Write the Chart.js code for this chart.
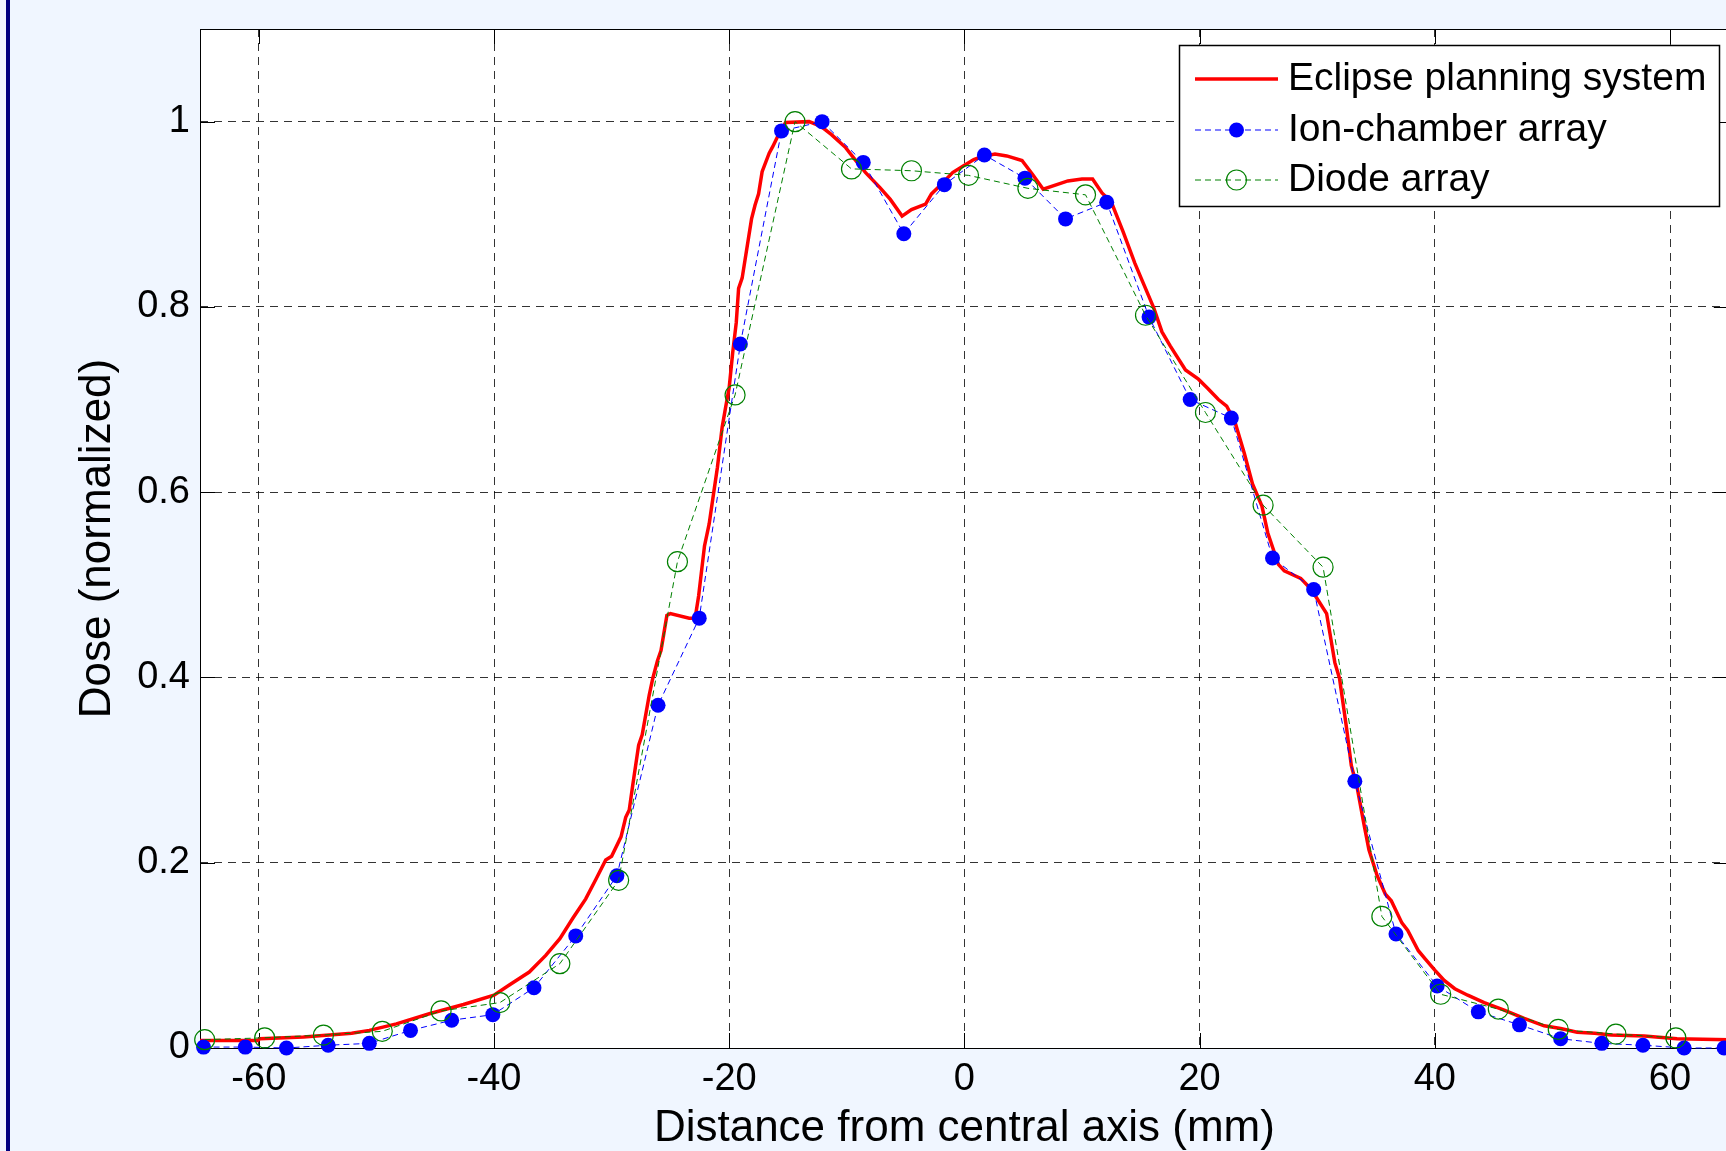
<!DOCTYPE html>
<html>
<head>
<meta charset="utf-8">
<title>Dose profile</title>
<script src="https://cdn.jsdelivr.net/npm/chart.js@4.4.1/dist/chart.umd.min.js"></script>
<style>
  html, body { margin: 0; padding: 0; overflow: hidden; background: #f0f6ff; }
  #wrap { position: absolute; left: 0; top: 0; width: 1740px; height: 1151px; }
  #edge { position: absolute; left: 6px; top: 0; width: 4px; height: 1151px; background: #000080; }
</style>
</head>
<body>
<div id="wrap"><canvas id="myChart"></canvas></div>
<div id="edge"></div>
<script>
// Eclipse planning system (calculated profile)
var eclipseX = [-65, -60.1, -59.9, -56.2, -54.0, -52.1, -50.6, -48.3, -45.5, -42.6, -40.0, -38.7, -37.0, -35.6, -34.4, -33.3,
  -32.2, -31.3, -30.5, -30.0, -29.2, -28.8, -28.5, -28.2, -27.7, -27.4, -26.8, -26.5, -26.1, -25.8, -25.3, -25.0,
  -23.4, -22.9, -22.6, -22.1, -21.7, -21.3, -21.0, -20.6, -20.3, -20.0, -19.7, -19.4, -19.2, -18.9, -18.5, -18.1,
  -17.8, -17.5, -17.2, -16.6, -16.3, -15.8, -15.2, -13.2, -12.2, -11.3, -10.1, -9.3, -8.4, -7.2, -6.3, -5.3,
  -4.5, -3.3, -2.8, -2.0, -1.0, -0.1, 0.8, 1.4, 2.6, 3.6, 4.9, 5.8, 6.7, 7.6, 8.8, 10.0,
  10.9, 11.7, 12.5, 13.5, 14.5, 15.2, 16.1, 16.8, 17.5, 18.8, 19.9, 20.7, 21.6, 22.3, 23.0, 23.8,
  24.5, 25.3, 25.8, 26.7, 27.2, 28.6, 29.5, 30.8, 31.5, 31.9, 32.5, 32.9, 33.4, 34.0, 34.4, 35.1,
  35.8, 36.3, 37.2, 37.7, 38.6, 39.2, 40.0, 40.8, 41.7, 42.8, 44.2, 45.9, 47.6, 49.3, 50.7, 52.1,
  53.6, 55.0, 57.8, 60.6, 65.0];
var eclipseY = [0.008, 0.008, 0.010, 0.012, 0.014, 0.016, 0.019, 0.026, 0.037, 0.047, 0.057, 0.068, 0.082, 0.100, 0.118, 0.140,
  0.161, 0.183, 0.203, 0.207, 0.228, 0.249, 0.257, 0.284, 0.327, 0.338, 0.381, 0.399, 0.418, 0.429, 0.467, 0.469,
  0.464, 0.464, 0.488, 0.542, 0.566, 0.601, 0.627, 0.670, 0.692, 0.713, 0.751, 0.783, 0.820, 0.831, 0.863, 0.895,
  0.910, 0.922, 0.946, 0.966, 0.973, 0.986, 0.999, 1.000, 0.995, 0.986, 0.972, 0.959, 0.945, 0.929, 0.916, 0.898,
  0.905, 0.911, 0.922, 0.932, 0.945, 0.952, 0.959, 0.962, 0.965, 0.963, 0.958, 0.943, 0.927, 0.931, 0.936, 0.938,
  0.938, 0.923, 0.913, 0.881, 0.847, 0.826, 0.799, 0.773, 0.758, 0.732, 0.722, 0.712, 0.700, 0.693, 0.676, 0.642,
  0.609, 0.585, 0.556, 0.522, 0.515, 0.507, 0.495, 0.469, 0.416, 0.399, 0.345, 0.305, 0.281, 0.240, 0.214, 0.186,
  0.166, 0.159, 0.135, 0.127, 0.105, 0.096, 0.084, 0.073, 0.064, 0.057, 0.049, 0.041, 0.032, 0.024, 0.021, 0.017,
  0.016, 0.014, 0.013, 0.010, 0.009];

// Ion-chamber array (measured)
var ionX = [-64.7, -61.15, -57.65, -54.1, -50.6, -47.1, -43.6, -40.1, -36.6, -33.05, -29.55, -26.05, -22.55,
  -19.05, -15.55, -12.1, -8.6, -5.15, -1.7, 1.7, 5.15, 8.6, 12.1, 15.7, 19.2, 22.7, 26.2, 29.7, 33.2,
  36.7, 40.2, 43.7, 47.2, 50.7, 54.2, 57.7, 61.2, 64.6];
var ionY = [0.001, 0.001, 0.000, 0.003, 0.005, 0.019, 0.030, 0.036, 0.065, 0.121, 0.186, 0.370, 0.464,
  0.760, 0.990, 1.000, 0.956, 0.879, 0.932, 0.964, 0.939, 0.895, 0.913, 0.789, 0.700, 0.680, 0.529, 0.495, 0.288,
  0.123, 0.067, 0.039, 0.025, 0.010, 0.005, 0.003, 0.000, 0.000];

// Diode array (measured)
var diodeX = [-64.6, -59.5, -54.5, -49.5, -44.5, -39.5, -34.4, -29.4, -24.4, -19.5, -14.4, -9.6, -4.5,
  0.35, 5.4, 10.3, 15.4, 20.5, 25.4, 30.5, 35.5, 40.5, 45.4, 50.5, 55.4, 60.5];
var diodeY = [0.009, 0.011, 0.014, 0.018, 0.040, 0.049, 0.091, 0.181, 0.525, 0.705, 1.000, 0.949, 0.947,
  0.942, 0.928, 0.921, 0.791, 0.686, 0.586, 0.519, 0.142, 0.058, 0.042, 0.020, 0.015, 0.011];

var xTicks = [-60, -40, -20, 0, 20, 40, 60];
var yTicks = [0, 0.2, 0.4, 0.6, 0.8, 1];

function toPoints(xs, ys) {
  return xs.map(function(x, i) { return {x: x, y: ys[i]}; });
}

var FONT = "'Liberation Sans', Arial, sans-serif";

// white plot area, box, inward ticks and the boxed legend (MATLAB look)
var matlabAxes = {
  id: 'matlabAxes',
  beforeDraw: function(chart) {
    var a = chart.chartArea, ctx = chart.ctx;
    ctx.save();
    ctx.fillStyle = '#ffffff';
    ctx.fillRect(a.left, a.top, a.right - a.left, a.bottom - a.top);
    ctx.restore();
  },
  beforeDatasetsDraw: function(chart) {
    var a = chart.chartArea, ctx = chart.ctx;
    var xs = chart.scales.x, ys = chart.scales.y;
    var tl = 15;
    ctx.save();
    ctx.strokeStyle = '#000';
    ctx.lineWidth = 1;
    ctx.strokeRect(Math.round(a.left) + 0.5, Math.round(a.top) + 0.5,
      Math.round(a.right - a.left), Math.round(a.bottom - a.top));
    ctx.beginPath();
    xTicks.forEach(function(v) {
      var px = Math.round(xs.getPixelForValue(v)) + 0.5;
      ctx.moveTo(px, a.bottom); ctx.lineTo(px, a.bottom - tl);
      ctx.moveTo(px, a.top); ctx.lineTo(px, a.top + tl);
    });
    yTicks.forEach(function(v) {
      var py = Math.round(ys.getPixelForValue(v)) + 0.5;
      ctx.moveTo(a.left, py); ctx.lineTo(a.left + tl, py);
      ctx.moveTo(a.right, py); ctx.lineTo(a.right - tl, py);
    });
    ctx.stroke();
    ctx.restore();
  },
  afterDraw: function(chart) {
    var ctx = chart.ctx;
    var ds = chart.data.datasets;
    var box = {left: 1179, top: 45, right: 1719, bottom: 206};
    var rows = [79, 130, 180];
    var x0 = 1195, x1 = 1278, xm = (x0 + x1) / 2, tx = 1288;
    ctx.save();
    ctx.fillStyle = '#fff';
    ctx.fillRect(box.left, box.top, box.right - box.left, box.bottom - box.top);
    ctx.strokeStyle = '#000';
    ctx.lineWidth = 1.5;
    ctx.strokeRect(box.left + 0.5, box.top + 0.5, box.right - box.left, box.bottom - box.top);
    ds.forEach(function(d, i) {
      var y = rows[i];
      ctx.save();
      ctx.strokeStyle = d.borderColor;
      ctx.lineWidth = d.borderWidth;
      ctx.setLineDash(d.borderDash || []);
      ctx.beginPath();
      ctx.moveTo(x0, y); ctx.lineTo(x1, y);
      ctx.stroke();
      ctx.setLineDash([]);
      if (d.pointRadius > 0) {
        ctx.beginPath();
        ctx.arc(xm, y, d.pointRadius, 0, Math.PI * 2);
        if (d.pointBackgroundColor !== 'transparent') {
          ctx.fillStyle = d.pointBackgroundColor;
          ctx.fill();
        }
        if (d.pointBorderWidth > 0) {
          ctx.strokeStyle = d.pointBorderColor;
          ctx.lineWidth = d.pointBorderWidth;
          ctx.stroke();
        }
      }
      ctx.restore();
      ctx.fillStyle = '#000';
      ctx.font = '39px ' + FONT;
      ctx.textBaseline = 'middle';
      ctx.textAlign = 'left';
      ctx.fillText(d.label, tx, y);
    });
    ctx.restore();
  }
};

var ctx = document.getElementById('myChart').getContext('2d');

var myChart = new Chart(ctx, {
  type: 'line',
  data: {
    datasets: [{
      label: 'Eclipse planning system',
      data: toPoints(eclipseX, eclipseY),
      borderColor: '#ff0000',
      borderWidth: 3.5,
      pointRadius: 0,
      tension: 0,
      order: 3
    }, {
      label: 'Ion-chamber array',
      data: toPoints(ionX, ionY),
      borderColor: '#0000ff',
      borderWidth: 1,
      borderDash: [6, 4],
      pointRadius: 7.5,
      pointBackgroundColor: '#0000ff',
      pointBorderColor: '#0000ff',
      pointBorderWidth: 0,
      tension: 0,
      clip: false,
      order: 2
    }, {
      label: 'Diode array',
      data: toPoints(diodeX, diodeY),
      borderColor: '#008000',
      borderWidth: 1,
      borderDash: [6, 4],
      pointRadius: 10,
      pointBackgroundColor: 'transparent',
      pointBorderColor: '#008000',
      pointBorderWidth: 1.2,
      tension: 0,
      clip: false,
      order: 1
    }]
  },
  options: {
    responsive: true,
    maintainAspectRatio: false,
    animation: false,
    layout: { padding: { left: 0, top: 29, right: 8, bottom: 0 } },
    scales: {
      x: {
        type: 'linear',
        min: -65,
        max: 65,
        afterFit: function(scale) {
          scale.height = 103;
          scale.paddingLeft = 0;
          scale.paddingRight = 0;
        },
        afterBuildTicks: function(scale) {
          scale.ticks = xTicks.map(function(v) { return {value: v}; });
        },
        border: { display: false },
        grid: {
          color: 'rgba(0,0,0,0.8)',
          lineWidth: 1,
          drawTicks: false
        },
        ticks: {
          padding: 9,
          color: '#000',
          font: { family: FONT, size: 38 },
          callback: function(value) { return String(value); }
        },
        title: {
          display: true,
          text: 'Distance from central axis (mm)',
          color: '#000',
          font: { family: FONT, size: 44, lineHeight: 1.0 },
          padding: { top: 0, bottom: 0 }
        }
      },
      y: {
        min: 0,
        max: 1.1,
        afterFit: function(scale) {
          scale.width = 200;
          scale.paddingTop = 0;
          scale.paddingBottom = 0;
        },
        afterBuildTicks: function(scale) {
          scale.ticks = yTicks.map(function(v) { return {value: v}; });
        },
        border: { display: false },
        grid: {
          color: 'rgba(0,0,0,0.8)',
          lineWidth: 1,
          drawTicks: false
        },
        ticks: {
          padding: 10,
          color: '#000',
          font: { family: FONT, size: 38 },
          callback: function(value) { return String(Math.round(value * 10) / 10); }
        },
        title: {
          display: true,
          text: 'Dose (normalized)',
          color: '#000',
          font: { family: FONT, size: 44, lineHeight: 1.1 },
          padding: { top: 74, bottom: 0 }
        }
      }
    },
    plugins: {
      legend: { display: false },
      tooltip: { enabled: false }
    }
  },
  plugins: [matlabAxes]
});

// dashed grid like MATLAB's
myChart.options.scales.x.border.dash = [8, 6];
myChart.options.scales.y.border.dash = [8, 6];
myChart.update();
</script>
</body>
</html>
